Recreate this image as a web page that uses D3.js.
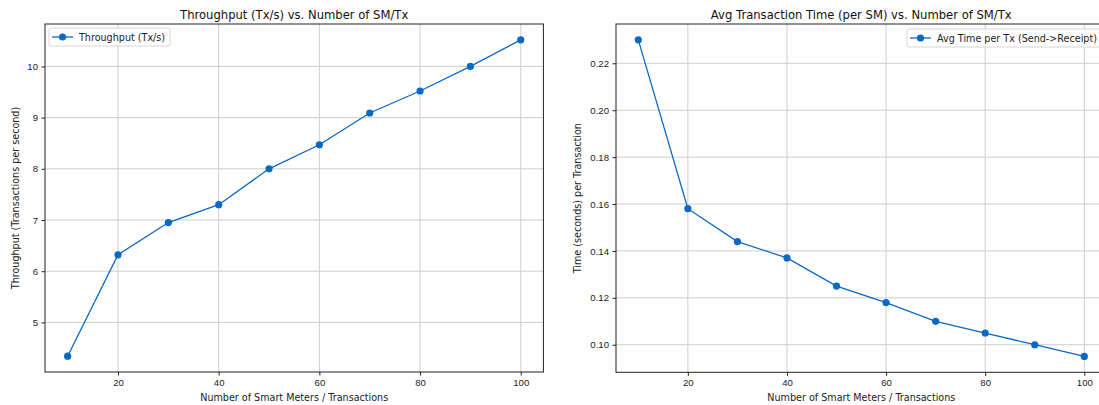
<!DOCTYPE html>
<html>
<head>
<meta charset="utf-8">
<script src="https://cdn.jsdelivr.net/npm/d3@7"></script>
<style>
  html, body { margin: 0; padding: 0; background: #fff; }
  svg { display: block; font-family: "DejaVu Sans", sans-serif; }
  .grid line { stroke: #cfcfcf; stroke-width: 1; }
  .axis path, .axis line { stroke: #222; }
  .axis text { fill: #222; }
</style>
</head>
<body>
<svg id="chart" width="1099" height="405"></svg>
<script>
// Number of smart meters / transactions per run
const counts = [10, 20, 30, 40, 50, 60, 70, 80, 90, 100];

// Throughput in transactions per second
const throughput = [4.34, 6.32, 6.95, 7.30, 8.00, 8.47, 9.09, 9.52, 10.00, 10.52];

// Average transaction time (send -> receipt) per SM, in seconds
const avgTime = [0.230, 0.158, 0.144, 0.137, 0.125, 0.118, 0.110, 0.105, 0.100, 0.095];

const xTicks = [20, 40, 60, 80, 100];
const throughputTicks = [5, 6, 7, 8, 9, 10];
const timeTicks = [0.10, 0.12, 0.14, 0.16, 0.18, 0.20, 0.22];

const lineColor = "#0a68c6";
const svg = d3.select("#chart");

function padded(values, frac) {
  const [lo, hi] = d3.extent(values);
  const m = (hi - lo) * frac;
  return [lo - m, hi + m];
}

function panel(cfg) {
  const { left, right, top, bottom, ys, yTicks, yFmt, title, yLabel, legend, legendPos, yLabelX } = cfg;
  const g = svg.append("g");

  const x = d3.scaleLinear().domain(padded(counts, 0.05)).range([left, right]);
  const y = d3.scaleLinear().domain(padded(ys, 0.05)).range([bottom, top]);

  // grid
  const grid = g.append("g").attr("class", "grid");
  grid.selectAll("line.v").data(xTicks).join("line")
    .attr("x1", d => x(d)).attr("x2", d => x(d))
    .attr("y1", top).attr("y2", bottom);
  grid.selectAll("line.h").data(yTicks).join("line")
    .attr("x1", left).attr("x2", right)
    .attr("y1", d => y(d)).attr("y2", d => y(d));

  // axes
  const xAxis = g.append("g").attr("class", "axis")
    .attr("transform", `translate(0,${bottom})`)
    .call(d3.axisBottom(x).tickValues(xTicks).tickSize(3.5).tickPadding(3.5).tickFormat(d3.format("d")));
  xAxis.select(".domain").remove();
  xAxis.selectAll("text").style("font-size", "9.6px");

  const yAxis = g.append("g").attr("class", "axis")
    .attr("transform", `translate(${left},0)`)
    .call(d3.axisLeft(y).tickValues(yTicks).tickSize(3.5).tickPadding(3.5).tickFormat(yFmt));
  yAxis.select(".domain").remove();
  yAxis.selectAll("text").style("font-size", "9.6px");

  // frame
  g.append("rect")
    .attr("x", left).attr("y", top)
    .attr("width", right - left).attr("height", bottom - top)
    .attr("fill", "none").attr("stroke", "#222").attr("stroke-width", 1);

  // series
  const line = d3.line().x((d, i) => x(counts[i])).y(d => y(d));
  g.append("path").datum(ys)
    .attr("d", line).attr("fill", "none")
    .attr("stroke", lineColor).attr("stroke-width", 1.3);
  g.selectAll("circle.pt").data(ys).join("circle")
    .attr("class", "pt")
    .attr("cx", (d, i) => x(counts[i])).attr("cy", d => y(d))
    .attr("r", 3.6).attr("fill", lineColor);

  // title
  g.append("text")
    .attr("x", (left + right) / 2).attr("y", 19)
    .attr("text-anchor", "middle")
    .style("font-size", "11.6px").attr("fill", "#111")
    .text(title);

  // axis labels
  g.append("text")
    .attr("x", (left + right) / 2).attr("y", 401)
    .attr("text-anchor", "middle")
    .style("font-size", "9.6px").attr("fill", "#222")
    .text("Number of Smart Meters / Transactions");
  g.append("text")
    .attr("transform", `translate(${yLabelX},${(top + bottom) / 2}) rotate(-90)`)
    .attr("text-anchor", "middle")
    .style("font-size", "9.6px").attr("fill", "#222")
    .text(yLabel);

  // legend
  const lg = g.append("g").attr("transform", `translate(${legendPos[0]},${legendPos[1]})`);
  lg.append("rect")
    .attr("width", legendPos[2]).attr("height", 18).attr("rx", 2)
    .attr("fill", "#fff").attr("fill-opacity", 0.8)
    .attr("stroke", "#d6d6d6");
  lg.append("line")
    .attr("x1", 3).attr("x2", 24).attr("y1", 9).attr("y2", 9)
    .attr("stroke", lineColor).attr("stroke-width", 1.3);
  lg.append("circle").attr("cx", 13.5).attr("cy", 9).attr("r", 3.6).attr("fill", lineColor);
  lg.append("text")
    .attr("x", 30).attr("y", 12.5)
    .style("font-size", "9.6px").attr("fill", "#222")
    .text(legend);
}

panel({
  left: 45, right: 543.4, top: 24, bottom: 372,
  ys: throughput, yTicks: throughputTicks, yFmt: d3.format("d"),
  title: "Throughput (Tx/s) vs. Number of SM/Tx",
  yLabel: "Throughput (Transactions per second)",
  legend: "Throughput (Tx/s)",
  legendPos: [49, 28, 121],
  yLabelX: 19
});

panel({
  left: 616, right: 1106.6, top: 24, bottom: 372.3,
  ys: avgTime, yTicks: timeTicks, yFmt: d3.format(".2f"),
  title: "Avg Transaction Time (per SM) vs. Number of SM/Tx",
  yLabel: "Time (seconds) per Transaction",
  legend: "Avg Time per Tx (Send->Receipt)",
  legendPos: [907, 29, 195],
  yLabelX: 581
});
</script>
</body>
</html>
